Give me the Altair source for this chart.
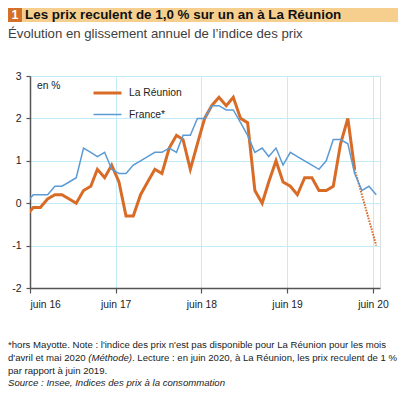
import altair as alt
import pandas as pd

# ---------------- data ----------------
series_names = ["La Réunion", "France*"]
# monthly year-on-year change, May 2016 .. June 2020 (Réunion: April & May 2020 missing)
reunion = [-0.3, -0.1, -0.1, 0.1, 0.2, 0.2, 0.1, 0.0, 0.3, 0.4, 0.8, 0.6, 0.9,
           0.5, -0.3, -0.3, 0.2, 0.5, 0.8, 0.7, 1.3, 1.6, 1.5, 0.8, 1.4,
           2.0, 2.3, 2.5, 2.3, 2.5, 2.0, 1.9, 0.3, 0.0, 0.5, 1.0, 0.5,
           0.4, 0.2, 0.6, 0.6, 0.3, 0.3, 0.4, 1.4, 2.0, 0.8, None, None, -1.0]
france = [0.0, 0.2, 0.2, 0.2, 0.4, 0.4, 0.5, 0.6, 1.3, 1.2, 1.1, 1.2, 0.8,
          0.7, 0.7, 0.9, 1.0, 1.1, 1.2, 1.2, 1.3, 1.2, 1.6, 1.6, 2.0,
          2.0, 2.3, 2.3, 2.2, 2.2, 1.9, 1.6, 1.2, 1.3, 1.1, 1.3, 0.9,
          1.2, 1.1, 1.0, 0.9, 0.8, 1.0, 1.5, 1.5, 1.4, 0.7, 0.3, 0.4, 0.2]
first_year, first_month = 2016, 5
tick_years = [2016, 2017, 2018, 2019, 2020]
y_ticks = [-2, -1, 0, 1, 2, 3]

title_number = "1"
title_text = "Les prix reculent de 1,0 % sur un an à La Réunion"
subtitle_text = "Évolution en glissement annuel de l’indice des prix"
unit_text = "en %"
foot_1 = "*hors Mayotte. Note : l'indice des prix n'est pas disponible pour La Réunion pour les mois"
foot_2a = "d'avril et mai 2020"
foot_2b = "(Méthode)"
foot_2c = ".  Lecture : en juin 2020, à La Réunion, les prix reculent de 1 %"
foot_3 = "par rapport à juin 2019."
foot_4 = "Source : Insee, Indices des prix à la consommation"

# ---------------- tables ----------------
dates = []
yy, mm = first_year, first_month
for _ in range(len(reunion)):
    dates.append(f"{yy}-{mm:02d}-15T00:00:00")
    mm += 1
    if mm > 12:
        mm, yy = 1, yy + 1

gap = reunion.index(None)
last = len(reunion) - 1
df_reu = pd.DataFrame({"date": dates[:gap], "value": reunion[:gap], "series": series_names[0]})
df_dot = pd.DataFrame({"date": [dates[gap - 1], dates[last]],
                       "value": [reunion[gap - 1], reunion[last]]})
df_fr = pd.DataFrame({"date": dates, "value": france, "series": series_names[1]})

# ---------------- style ----------------
FONT = "'Liberation Sans', Arial, sans-serif"
ORANGE = "#d86c27"
BLUE = "#5b9bd5"
GRID = "#c4ecf8"
AXIS = "#555555"
TXT = "#222222"

W, H = 350, 212

legend = alt.Legend(orient="none", legendX=62, legendY=1.5, title=None,
                    symbolType="stroke", symbolSize=784, labelFont=FONT,
                    labelFontSize=10.3, labelColor=TXT, labelOffset=6,
                    rowPadding=-10, padding=0)
color = alt.Color("series:N", scale=alt.Scale(domain=series_names, range=[ORANGE, BLUE]),
                  legend=legend)
swidth = alt.StrokeWidth("series:N", scale=alt.Scale(domain=series_names, range=[3, 1.5]),
                         legend=legend)

x_enc = alt.X("date:T",
              scale=alt.Scale(domain=[alt.DateTime(year=2016, month=6, date=1),
                                      alt.DateTime(year=2020, month=7, date=1)]),
              axis=alt.Axis(values=[alt.DateTime(year=y, month=6, date=1) for y in tick_years],
                            labelExpr="'juin ' + timeFormat(datum.value, '%y')",
                            title=None, grid=True, tickSize=5, labelPadding=6,
                            labelFont=FONT, labelFontSize=10.3, labelColor=TXT,
                            domainColor=AXIS, domainWidth=1.5, tickColor=AXIS, tickWidth=1.2,
                            gridColor=GRID, gridWidth=1))
y_enc = alt.Y("value:Q",
              scale=alt.Scale(domain=[-2, 3], nice=False, zero=False),
              axis=alt.Axis(values=y_ticks, labelExpr="toString(datum.value)",
                            title=None, grid=True, tickSize=4, labelPadding=5,
                            labelFont=FONT, labelFontSize=10.5, labelColor=TXT,
                            domainColor=AXIS, domainWidth=1.5, tickColor=AXIS, tickWidth=1.2,
                            gridColor=GRID, gridWidth=1))

reu_line = alt.Chart(df_reu).mark_line(clip=True, strokeJoin="miter").encode(
    x=x_enc, y=y_enc, color=color, strokeWidth=swidth)
dot_line = alt.Chart(df_dot).mark_line(clip=True, color=ORANGE, strokeWidth=2,
                                       strokeDash=[1.6, 1.2]).encode(
    x=alt.X("date:T"), y=alt.Y("value:Q"))
fr_line = alt.Chart(df_fr).mark_line(clip=True).encode(
    x=alt.X("date:T"), y=alt.Y("value:Q"), color=color, strokeWidth=swidth)


def text_layer(txt, x, y, size=12, weight="normal", style="normal", col=TXT, align="left"):
    return alt.Chart(pd.DataFrame({"t": [txt]})).mark_text(
        align=align, baseline="alphabetic", font=FONT, fontSize=size,
        fontWeight=weight, fontStyle=style, color=col).encode(
        x=alt.value(x), y=alt.value(y), text="t:N")


def rect_layer(x, x2, y, y2, col):
    return alt.Chart(pd.DataFrame({"k": [0]})).mark_rect(color=col).encode(
        x=alt.value(x), x2=alt.value(x2), y=alt.value(y), y2=alt.value(y2))


FS = 9.6  # footnote size
band = rect_layer(-22, 368, -68, -54, "#f6cf8e")
box = rect_layer(-22, -8, -68, -54, "#d4702a")
num = text_layer(title_number, -15, -57.5, size=12.5, weight="bold", col="white", align="center")
ttl = text_layer(title_text, -5, -57.5, size=13.4, weight="bold", col="#111111")
sub = text_layer(subtitle_text, -22, -38, size=13.2, col="#404040")
unit = text_layer(unit_text, 7, 13, size=10.3)
f1 = text_layer(foot_1, -22, 272, size=FS)
f2a = text_layer(foot_2a, -22, 285, size=FS)
f2b = text_layer(foot_2b, 58.3, 285, size=FS, style="italic")
f2c = text_layer(foot_2c, 102, 285, size=FS)
f3 = text_layer(foot_3, -22, 298, size=FS)
f4 = text_layer(foot_4, -22, 310, size=FS, style="italic")

chart = alt.layer(
    band, box, num, ttl, sub, unit,
    reu_line, dot_line, fr_line,
    f1, f2a, f2b, f2c, f3, f4,
).properties(
    width=W, height=H,
    autosize=alt.AutoSizeParams(type="none"),
    padding={"left": 22, "top": 68, "right": 22, "bottom": 103},
).configure_view(
    stroke=GRID, strokeWidth=1
).configure(background="white")

chart.save("out.html", embed_options={"renderer": "svg", "actions": False})
